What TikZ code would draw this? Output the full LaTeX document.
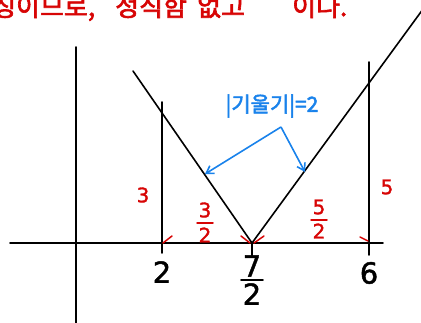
\documentclass[tikz,border=0pt]{standalone}
\usepackage{fontspec}
\setmainfont{DejaVu Sans}
\newfontfamily\kr[FakeBold=2.5]{Noto Sans CJK KR}
\newfontfamily\digf[FakeBold=1.5]{DejaVu Sans}
\usetikzlibrary{arrows.meta}
\definecolor{hred}{RGB}{215,5,5}
\definecolor{hblue}{RGB}{25,130,235}
\tikzset{
  ink/.style={line width=1.6pt, black, line cap=round},
  redmark/.style={line width=1.5pt, hred, line cap=round},
  bluearrow/.style={line width=1.6pt, hblue, -{Straight Barb[length=7pt,width=9pt,line width=1.6pt]}},
  blk/.style={font=\digf\fontsize{29}{29}\selectfont, inner sep=0pt, text=black},
  rdig/.style={font=\digf\fontsize{20}{20}\selectfont, inner sep=0pt, text=hred},
  toptext/.style={font=\kr\fontsize{26}{26}\selectfont, text=hred, inner sep=0pt, anchor=base west},
}
\begin{document}
\begin{tikzpicture}[x=1pt,y=-1pt]
\useasboundingbox (0,0) rectangle (421,322);
% top text (cut off at the top edge)
\node[toptext] (t1) at (-8,16) {칭이므로,};
\node[toptext] (t2) at (115,16) {정직함};
\node[toptext] (t3) at (197,16) {없고};
\node[toptext] (t4) at (292,16) {이다.};
% axes
\coordinate (xl) at (10,243);
\coordinate (xr) at (383,243);
\coordinate (yt) at (76,47);
\coordinate (yb) at (76,324);
\draw[ink] (xl) -- (xr);
\draw[ink] (yt) -- (yb);
% verticals
\coordinate (a1) at (162,102);
\coordinate (a2) at (162,253);
\draw[ink] (a1) -- (a2);
\coordinate (b1) at (369,62);
\coordinate (b2) at (369,255);
\draw[ink] (b1) -- (b2);
\coordinate (m1) at (252,243);
\coordinate (m2) at (252,256);
\draw[ink] (m1) -- (m2);
% V graph
\coordinate (vl) at (133,71);
\coordinate (vr) at (426,5);
\draw[ink, line join=round] (vl) -- (m1) -- (vr);
% red marks
\coordinate (r1a) at (163,243); \coordinate (r1b) at (172,236);
\coordinate (r2a) at (241,236); \coordinate (r2b) at (250,243);
\coordinate (r3a) at (254,243); \coordinate (r3b) at (264,236);
\coordinate (r4a) at (360,237); \coordinate (r4b) at (368,241);
\draw[redmark] (r1a) -- (r1b);
\draw[redmark] (r2a) -- (r2b);
\draw[redmark] (r3a) -- (r3b);
\draw[redmark] (r4a) -- (r4b);
% red labels
\node[rdig] (h3) at (143,195) {3};
\node[rdig] (h5) at (387,187) {5};
\node[rdig] (f3n) at (205,210) {3};
\coordinate (f3l) at (197,223); \coordinate (f3r) at (213,223);
\draw[redmark] (f3l) -- (f3r);
\node[rdig] (f3d) at (205,235) {2};
\node[rdig] (f5n) at (319,207) {5};
\coordinate (f5l) at (311,220); \coordinate (f5r) at (327,220);
\draw[redmark] (f5l) -- (f5r);
\node[rdig] (f5d) at (319,231) {2};
% black labels
\node[blk] (x2) at (162,272) {2};
\node[blk] (x6) at (369,273) {6};
\node[blk] (x7n) at (252,266) {7};
\coordinate (x7l) at (241,280); \coordinate (x7r) at (263,280);
\draw[ink] (x7l) -- (x7r);
\node[blk] (x7d) at (252,294) {2};
% blue label and arrows
\node[font=\kr\fontsize{21}{21}\selectfont, text=hblue, inner sep=0pt] (lbl) at (272,106) {|기울기|=2};
\coordinate (ap) at (281,127);
\coordinate (at1) at (205,174);
\coordinate (at2) at (305,172);
\draw[bluearrow] (ap) -- (at1);
\draw[bluearrow] (ap) -- (at2);
\end{tikzpicture}
\end{document}
